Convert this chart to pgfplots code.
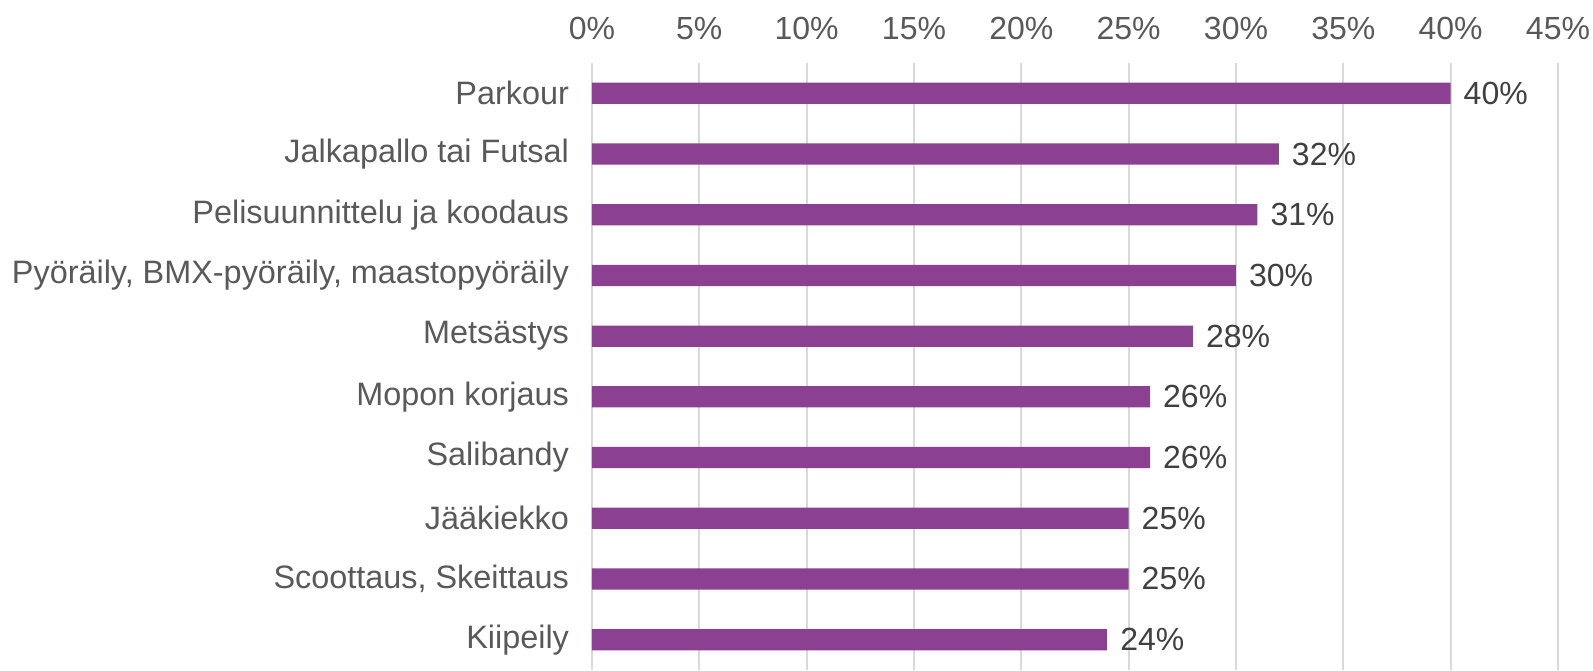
\documentclass[border=0pt]{standalone}
\usepackage{fontspec}
\setmainfont{Liberation Sans}
\usepackage{pgfplots}
\pgfplotsset{compat=1.18}
\definecolor{barc}{HTML}{8B4091}
\definecolor{lab}{HTML}{595959}
\definecolor{val}{HTML}{404040}
\definecolor{gridc}{HTML}{D9D9D9}
\begin{document}
\begin{tikzpicture}
\begin{axis}[name=ax, scale only axis, width=483pt, height=303.5pt,
  xbar, bar width=0.35,
  xmin=0, xmax=45, ymin=-0.5, ymax=9.5, y dir=reverse,
  axis line style={draw=none},
  major tick length=0pt,
  xmajorgrids, grid style={gridc, line width=1pt},
  xtick={0,5,...,45},
  xticklabels={0\%,5\%,10\%,15\%,20\%,25\%,30\%,35\%,40\%,45\%},
  xticklabel pos=top,
  xticklabel style={font=\fontsize{16}{19}\selectfont, text=lab, yshift=8pt},
  ytick={0,...,9},
  yticklabels={Parkour,Jalkapallo tai Futsal,Pelisuunnittelu ja koodaus,{Pyöräily, BMX-pyöräily, maastopyöräily},Metsästys,Mopon korjaus,Salibandy,Jääkiekko,{Scoottaus, Skeittaus},Kiipeily},
  yticklabel style={font=\fontsize{16.2}{19}\selectfont, text=lab, xshift=-8pt},
  point meta=x,
  nodes near coords={\pgfmathprintnumber{\pgfplotspointmeta}\%},
  nodes near coords style={font=\fontsize{16}{19}\selectfont, text=val, xshift=3pt, /pgf/number format/assume math mode=true},
  clip=false,
]
\addplot[fill=barc, draw=none] coordinates {(40,0) (32,1) (31,2) (30,3) (28,4) (26,5) (26,6) (25,7) (25,8) (24,9)};
\end{axis}
\pgfresetboundingbox
\path[use as bounding box] ([xshift=-296pt]ax.south west) rectangle ([xshift=17.5pt,yshift=31.5pt]ax.north east);
\end{tikzpicture}
\end{document}
